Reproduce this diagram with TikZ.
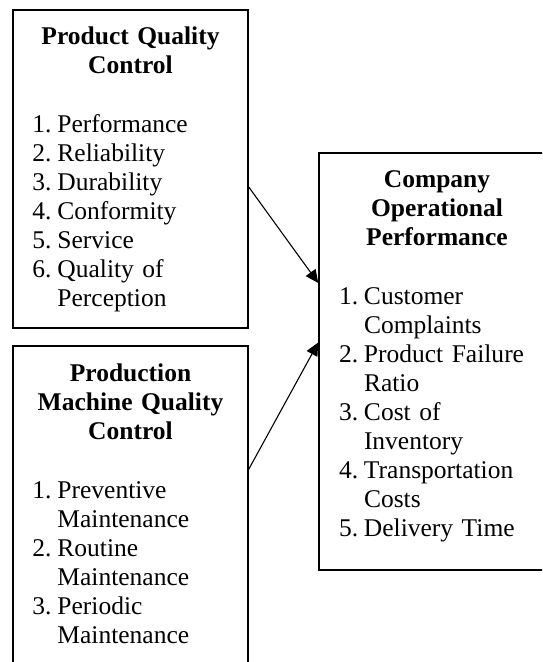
\documentclass[tikz,border=0pt]{standalone}
\usepackage{fontspec}
\setmainfont{Liberation Serif}
\usetikzlibrary{fit, positioning, arrows.meta}

\newcommand{\boxtitle}[1]{{\centering\bfseries\strut #1\par}\vspace{15pt}}
\newcommand{\itemlist}[1]{\noindent\begin{tabular}[t]{@{}p{12.5pt}@{}l@{}}#1\end{tabular}}

\begin{document}
\begin{tikzpicture}
        [x=0.5pt, y=-0.5pt,
        every node/.style={font=\fontsize{12.75pt}{14.5pt}\selectfont},
        frame/.style={draw, line width=0.75pt, inner sep=0pt},
        boxtext/.style={inner sep=0pt, text width=98pt},
        link/.style={-{Triangle[length=6.5pt, width=6pt]}, line width=0.55pt}]

    \useasboundingbox (0,0) rectangle (542,662);
    \clip (0,0) rectangle (542,662);

    % the three boxes, two of them run past the edge
    \node[frame, fit={(13,10) (248,328)}] (pqc) {};
    \node[frame, fit={(13,346) (248,700)}] (pmqc) {};
    \node[frame, fit={(319,153) (555,570)}] (cop) {};

    \node[boxtext, below=7.2pt of pqc.north] (pqcText)
    {
      \boxtitle{Product Quality\\Control}
      \itemlist{
        1. & Performance \\
        2. & Reliability \\
        3. & Durability \\
        4. & Conformity \\
        5. & Service \\
        6. & Quality of \\
           & Perception
      }
    };

    \node[boxtext, below=7.8pt of pmqc.north] (pmqcText)
    {
      \boxtitle{Production\\Machine Quality\\Control}
      \itemlist{
        1. & Preventive \\
           & Maintenance \\
        2. & Routine \\
           & Maintenance \\
        3. & Periodic \\
           & Maintenance
      }
    };

    \node[boxtext, below=7.2pt of cop.north] (copText)
    {
      \boxtitle{Company\\Operational\\Performance}
      \itemlist{
        1. & Customer \\
           & Complaints \\
        2. & Product Failure \\
           & Ratio \\
        3. & Cost of \\
           & Inventory \\
        4. & Transportation \\
           & Costs \\
        5. & Delivery Time
      }
    };

    \draw[link] ([yshift=-9pt]pqc.east) -- ([yshift=39.25pt]cop.west);
    \draw[link] ([yshift=-62pt]pmqc.north east) -- ([yshift=9.5pt]cop.west);
\end{tikzpicture}
\end{document}
